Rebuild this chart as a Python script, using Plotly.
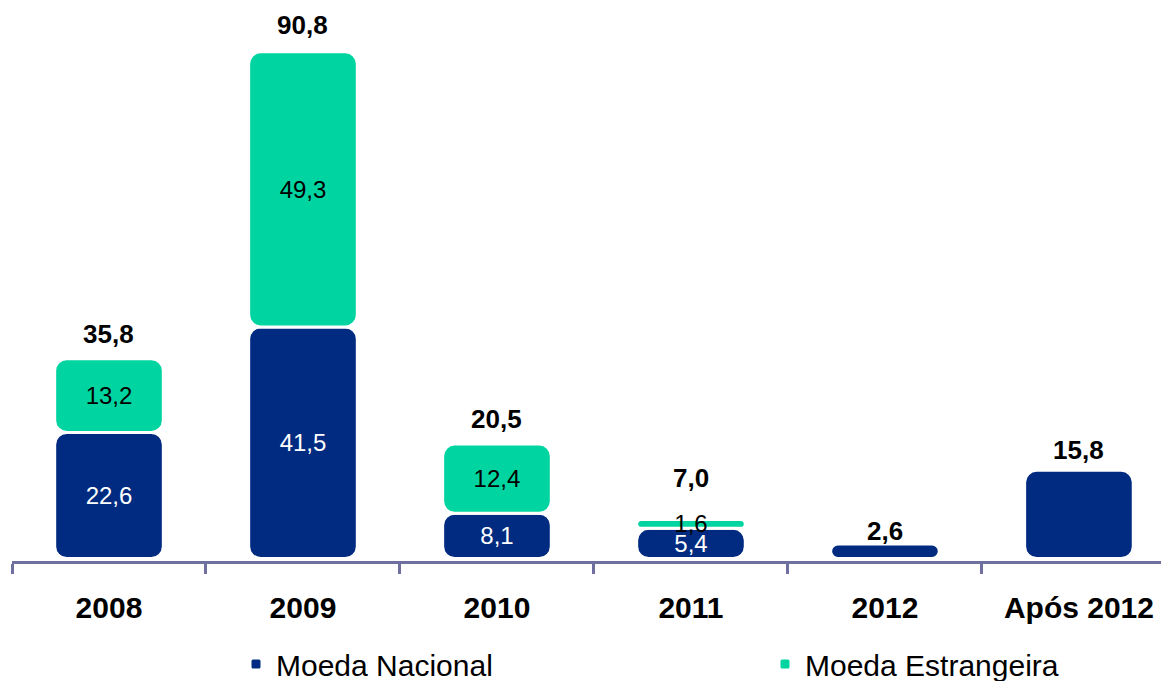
import plotly.graph_objects as go

categories = ["2008", "2009", "2010", "2011", "2012", "Após 2012"]
moeda_nacional = [22.6, 41.5, 8.1, 5.4, 2.6, 15.8]
moeda_estrangeira = [13.2, 49.3, 12.4, 1.6, None, None]
totals = [35.8, 90.8, 20.5, 7.0, 2.6, 15.8]
nacional_labels = ["22,6", "41,5", "8,1", "5,4", "", ""]
estrangeira_labels = ["13,2", "49,3", "12,4", "1,6", "", ""]
total_labels = ["35,8", "90,8", "20,5", "7,0", "2,6", "15,8"]

# style (pixel offsets of the total labels above each stack)
total_label_shift = [25, 27, 25, 41, 13, 20]

NAVY = "#012B80"
GREEN = "#00D4A0"
AXIS = "#7070A0"
FONT = "Arial, Liberation Sans, sans-serif"

# explicit bases so every segment gets rounded corners at both ends
nacional_base = [0 for _ in moeda_nacional]
estrangeira_base = moeda_nacional

fig = go.Figure()
fig.add_trace(go.Bar(
    x=categories, y=moeda_nacional, base=nacional_base, name="Moeda Nacional",
    marker=dict(color=NAVY, cornerradius=12, line=dict(color="white", width=3)),
    width=0.56,
    text=nacional_labels, textposition="inside", insidetextanchor="middle",
    textfont=dict(color="white", size=24, family=FONT),
    hoverinfo="skip",
))
fig.add_trace(go.Bar(
    x=categories, y=moeda_estrangeira, base=estrangeira_base, name="Moeda Estrangeira",
    marker=dict(color=GREEN, cornerradius=12, line=dict(color="white", width=3)),
    width=0.56,
    text=estrangeira_labels, textposition="inside", insidetextanchor="middle",
    textfont=dict(color="black", size=24, family=FONT),
    hoverinfo="skip",
))

for i, (tot, lab, sh) in enumerate(zip(totals, total_labels, total_label_shift)):
    fig.add_annotation(x=i, y=tot, xref="x", yref="y", text=f"<b>{lab}</b>", showarrow=False,
                       yanchor="middle", yshift=sh,
                       font=dict(size=26, color="black", family=FONT))

fig.update_layout(
    width=1161, height=681,
    margin=dict(l=12, r=0, t=10, b=120),
    paper_bgcolor="white", plot_bgcolor="white",
    barmode="overlay",
    uniformtext=dict(minsize=24, mode="show"),
    font=dict(family=FONT, color="black"),
    legend=dict(
        orientation="h", xref="container", yref="container",
        x=236 / 1161, xanchor="left", y=1 - 664 / 681, yanchor="middle",
        entrywidth=484, entrywidthmode="pixels",
        font=dict(size=30, family=FONT, color="black"),
        traceorder="normal",
    ),
    xaxis=dict(
        type="category", range=[-0.5, 5.423],
        showline=True, linecolor=AXIS, linewidth=3,
        ticks="outside", tickson="boundaries", ticklen=10, tickwidth=3, tickcolor=AXIS,
        tickfont=dict(size=30, family=FONT, color="black", weight="bold"),
        ticklabelstandoff=18,
        showgrid=False, zeroline=False,
    ),
    yaxis=dict(range=[-0.45, 98.3], visible=False, showgrid=False, zeroline=False),
)

fig.write_html("out.html", config={"displayModeBar": False},
               post_script="document.body.style.margin='0';document.body.style.overflow='hidden';")
